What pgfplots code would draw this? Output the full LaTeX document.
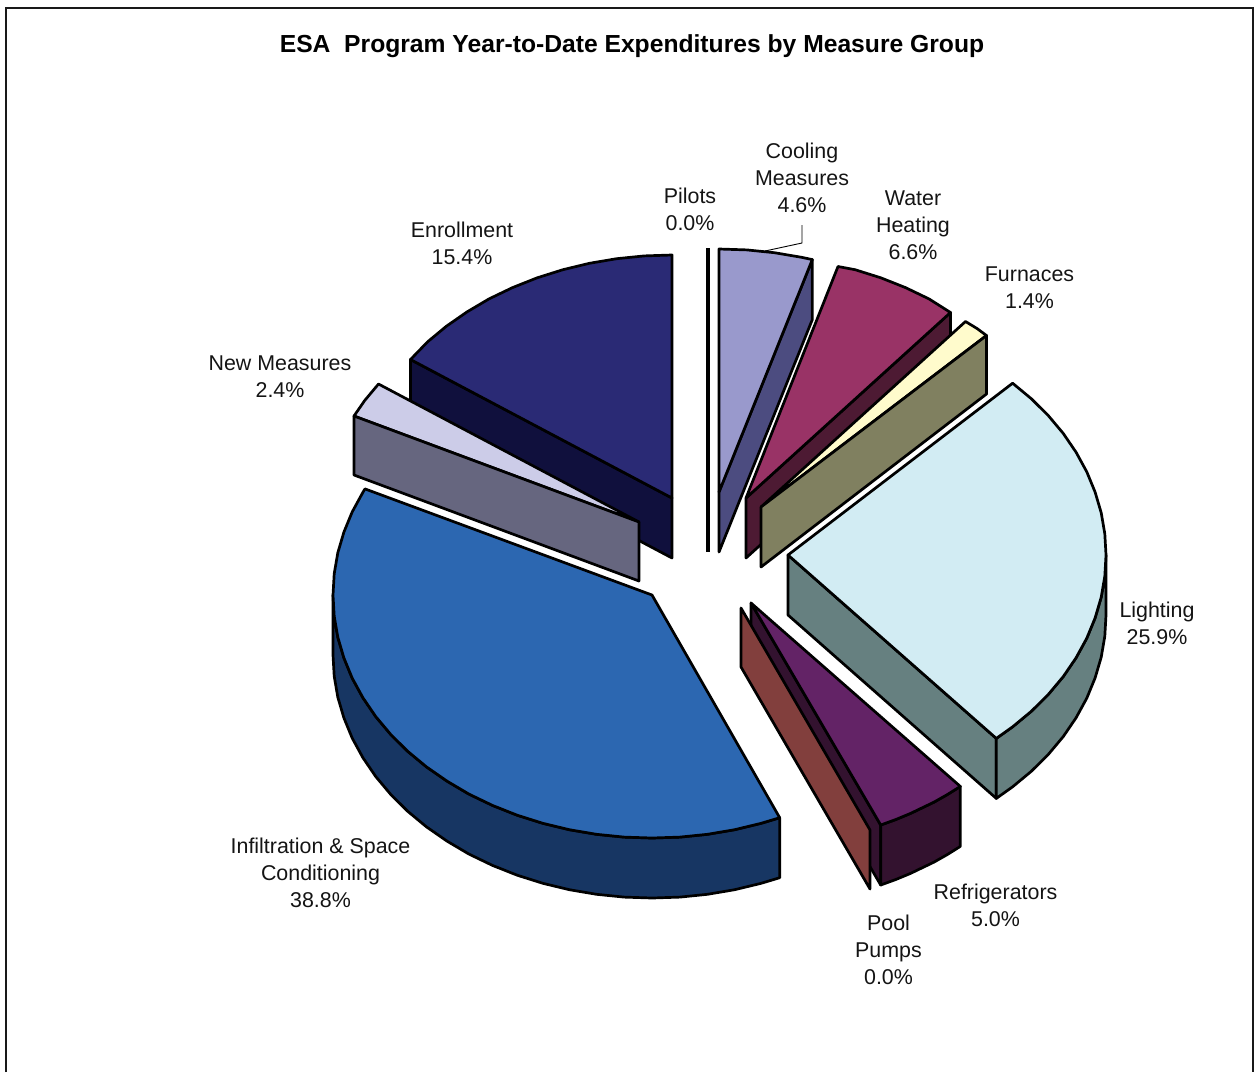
\documentclass[border=0pt]{standalone}
\usepackage{pgfplots}
\pgfplotsset{compat=1.18}
\usepackage{fontspec}
\setmainfont{Liberation Sans}
% Slice faces: top surface and the darker cut/outer walls
\definecolor{enrollT}{HTML}{2A2A75}\definecolor{enrollW}{HTML}{10103D}
\definecolor{newT}{HTML}{CCCCE8}\definecolor{newW}{HTML}{66667F}
\definecolor{infT}{HTML}{2C67B1}\definecolor{infW}{HTML}{173663}
\definecolor{coolT}{HTML}{9999CC}\definecolor{coolW}{HTML}{4C4C80}
\definecolor{waterT}{HTML}{993366}\definecolor{waterW}{HTML}{4D1A33}
\definecolor{furnT}{HTML}{FFFBCC}\definecolor{furnW}{HTML}{808060}
\definecolor{lightT}{HTML}{D2ECF3}\definecolor{lightW}{HTML}{668080}
\definecolor{refrT}{HTML}{632366}\definecolor{refrW}{HTML}{33122F}
\definecolor{poolT}{HTML}{823F3D}
\tikzset{
  face/.style={draw=black,fill=#1,line width=1.35pt,line join=round,mark=none},
  lab/.style={font=\fontsize{10.7}{13.5}\selectfont,align=center,anchor=center,text=black!92,inner sep=0pt}
}
\begin{document}
\begin{tikzpicture}
\path[use as bounding box] (0,0) rectangle (628pt,536pt);
\begin{axis}[
  scale only axis,width=628pt,height=536pt,
  xmin=0,xmax=1256,ymin=0,ymax=1072,y dir=reverse,
  hide axis,clip=false]

% outer frame of the chart
\addplot[draw=black!90,line width=1pt,mark=none] coordinates {(5.5,1072)(5.5,8)(1253,8)(1253,1072)};

% Enrollment
\addplot[face=enrollW] coordinates {(410.5,359.5)(672,498)(672,558)(410.5,419.5)} --cycle;
\addplot[face=enrollT] coordinates {(672,498)(410.5,359.5)(427.6,341.8)(446.4,326.2)(467,311.9)(489,298.9)(512.5,287.6)(537.2,277.8)(562.9,269.7)(589.4,263.3)(616.6,258.7)(644.2,255.9)(672,255)} --cycle;

% New Measures
\addplot[face=newT] coordinates {(639,522)(354,416)(364.7,400.5)(378.5,384)} --cycle;
\addplot[face=newW] coordinates {(354,416)(639,522)(639,581)(354,475)} --cycle;

% Pilots (0.0%, seen edge-on)
\addplot[draw=black,line width=1.6pt,mark=none] coordinates {(708,248)(708,552)};

% Cooling Measures
\addplot[face=coolW] coordinates {(719,492)(812.3,259.6)(812.3,319.6)(719,552)} --cycle;
\addplot[face=coolT] coordinates {(719,492)(719,249)(746.8,249.9)(774.4,252.7)(801.6,257.3)(812.3,259.6)} --cycle;
\addplot[draw=black,line width=0.45pt,mark=none] coordinates {(765,251)(802,243)(802,225)};

% Water Heating
\addplot[face=waterW] coordinates {(746,498)(950.5,312.5)(950.5,372.5)(746,558)} --cycle;
\addplot[face=waterT] coordinates {(746,498)(838,266.5)(855.1,269.7)(880.8,277.8)(905.5,287.6)(929,298.9)(950.5,312.5)} --cycle;

% Furnaces
\addplot[face=furnT] coordinates {(761,507)(965.5,321.5)(977,328.5)(986.5,335.5)} --cycle;
\addplot[face=furnW] coordinates {(761,507)(986.5,335.5)(986.5,394)(761,567)} --cycle;

% Lighting
\addplot[face=lightW] coordinates {(788,555)(996.3,738.4)(996.3,798.4)(788,615)} --cycle;
\addplot[face=lightW] coordinates {(1106,555)(1104.8,576.2)(1101.2,597.2)(1095.1,617.9)(1086.8,638.1)(1076.1,657.7)(1063.3,676.5)(1048.3,694.4)(1031.4,711.2)(1012.6,726.8)(996.3,738.4)(996.3,798.4)(1012.6,786.8)(1031.4,771.2)(1048.3,754.4)(1063.3,736.5)(1076.1,717.7)(1086.8,698.1)(1095.1,677.9)(1101.2,657.2)(1104.8,636.2)(1106,615)} --cycle;
\addplot[face=lightT] coordinates {(788,555)(1012.6,383.2)(1031.4,398.8)(1048.3,415.6)(1063.3,433.5)(1076.1,452.3)(1086.8,471.9)(1095.1,492.1)(1101.2,512.8)(1104.8,533.8)(1106,555)(1104.8,576.2)(1101.2,597.2)(1095.1,617.9)(1086.8,638.1)(1076.1,657.7)(1063.3,676.5)(1048.3,694.4)(1031.4,711.2)(1012.6,726.8)(996.3,738.4)} --cycle;

% Refrigerators
\addplot[face=refrW] coordinates {(751,603)(880.7,825)(880.7,885)(751,663)} --cycle;
\addplot[face=refrW] coordinates {(960.3,786.4)(947.4,794.5)(934,802.1)(910.5,813.4)(895.8,819.5)(880.7,825)(880.7,885)(895.8,879.5)(910.5,873.4)(934,862.1)(947.4,854.5)(960.3,846.4)} --cycle;
\addplot[face=refrT] coordinates {(751,603)(960.3,786.4)(947.4,794.5)(934,802.1)(910.5,813.4)(895.8,819.5)(880.7,825)} --cycle;

% Pool Pumps (0.0%)
\addplot[face=poolT] coordinates {(741,608)(870,830)(870,889)(741,667)} --cycle;

% Infiltration & Space Conditioning
\addplot[face=infW] coordinates {(779.7,817.7)(761.1,823.3)(734.6,829.7)(707.4,834.3)(679.8,837.1)(652,838)(624.2,837.1)(596.6,834.3)(569.4,829.7)(542.9,823.3)(517.2,815.2)(492.5,805.4)(469,794.1)(447,781.1)(426.4,766.8)(407.6,751.2)(390.7,734.4)(375.7,716.5)(362.9,697.7)(352.2,678.1)(343.9,657.9)(337.8,637.2)(334.2,616.2)(333,595)(333,655)(334.2,676.2)(337.8,697.2)(343.9,717.9)(352.2,738.1)(362.9,757.7)(375.7,776.5)(390.7,794.4)(407.6,811.2)(426.4,826.8)(447,841.1)(469,854.1)(492.5,865.4)(517.2,875.2)(542.9,883.3)(569.4,889.7)(596.6,894.3)(624.2,897.1)(652,898)(679.8,897.1)(707.4,894.3)(734.6,889.7)(761.1,883.3)(779.7,877.7)} --cycle;
\addplot[face=infT] coordinates {(652,595)(779.7,817.7)(761.1,823.3)(734.6,829.7)(707.4,834.3)(679.8,837.1)(652,838)(624.2,837.1)(596.6,834.3)(569.4,829.7)(542.9,823.3)(517.2,815.2)(492.5,805.4)(469,794.1)(447,781.1)(426.4,766.8)(407.6,751.2)(390.7,734.4)(375.7,716.5)(362.9,697.7)(352.2,678.1)(343.9,657.9)(337.8,637.2)(334.2,616.2)(333,595)(334.2,573.8)(337.8,552.8)(343.9,532.1)(352.2,511.9)(362.9,492.3)(365,488.9)} --cycle;

% title and data labels
\node[font=\fontsize{12.33}{14}\selectfont\bfseries,anchor=center,inner sep=0pt] at (axis cs:632,46) {ESA\ \ Program Year-to-Date Expenditures by Measure Group};
\node[lab] at (axis cs:690,209.5) {Pilots\\0.0\%};
\node[lab] at (axis cs:802,178) {Cooling\\Measures\\4.6\%};
\node[lab] at (axis cs:913,225) {Water\\Heating\\6.6\%};
\node[lab] at (axis cs:1029.5,287.5) {Furnaces\\1.4\%};
\node[lab] at (axis cs:1157,623.5) {Lighting\\25.9\%};
\node[lab] at (axis cs:995.5,905.5) {Refrigerators\\5.0\%};
\node[lab] at (axis cs:888.5,950) {Pool\\Pumps\\0.0\%};
\node[lab] at (axis cs:320.5,873) {Infiltration \& Space\\Conditioning\\38.8\%};
\node[lab] at (axis cs:280,377) {New Measures\\2.4\%};
\node[lab] at (axis cs:462,243.5) {Enrollment\\15.4\%};
\end{axis}
\end{tikzpicture}
\end{document}
